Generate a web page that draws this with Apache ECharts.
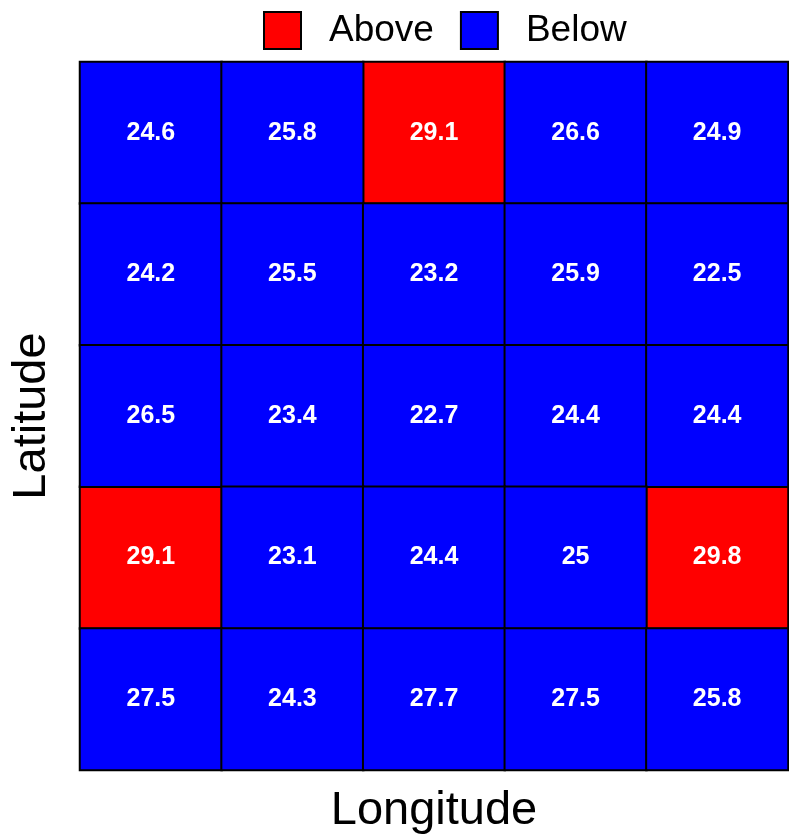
<!DOCTYPE html>
<html>
<head>
<meta charset="utf-8">
<script src="https://cdn.jsdelivr.net/npm/echarts@6/dist/echarts.min.js"></script>
<style>
  html, body { margin: 0; padding: 0; background: #fff; }
  #chart { width: 789px; height: 837px; }
</style>
</head>
<body>
<div id="chart"></div>
<script>
// columns (longitude) and rows (latitude, top to bottom)
const lonCats = ['1', '2', '3', '4', '5'];
const latCats = ['1', '2', '3', '4', '5'];
const values = [
  [24.6, 25.8, 29.1, 26.6, 24.9],
  [24.2, 25.5, 23.2, 25.9, 22.5],
  [26.5, 23.4, 22.7, 24.4, 24.4],
  [29.1, 23.1, 24.4, 25, 29.8],
  [27.5, 24.3, 27.7, 27.5, 25.8]
];
const threshold = 28;

const above = [];
const below = [];
values.forEach((row, r) => {
  row.forEach((v, c) => {
    if (v > threshold) above.push([c, r, v]);
    else below.push([c, r, v]);
  });
});

const myChart = echarts.init(document.getElementById('chart'));

const FONT = 'Liberation Sans, Arial, sans-serif';
const cellStyle = (color) => ({
  color: color,
  borderColor: '#000',
  borderWidth: 2
});
const cellLabel = {
  show: true,
  color: '#fff',
  fontSize: 25,
  fontWeight: 'bold',
  fontFamily: FONT,
  formatter: (p) => p.value[2]
};

const option = {
  backgroundColor: '#fff',
  animation: false,
  legend: {
    left: 258,
    top: 6,
    itemWidth: 37,
    itemHeight: 37,
    itemGap: 26,
    icon: 'rect',
    itemStyle: { borderColor: '#000', borderWidth: 2 },
    textStyle: {
      fontSize: 37,
      color: '#000',
      fontFamily: FONT,
      padding: [0, 0, 0, 23]
    },
    data: ['Above', 'Below']
  },
  grid: { left: 80, top: 62, right: 1, bottom: 67, containLabel: false, outerBoundsMode: 'none' },
  xAxis: {
    type: 'category',
    data: lonCats,
    name: 'Longitude',
    nameLocation: 'middle',
    nameGap: 18,
    nameTextStyle: { fontSize: 47, color: '#000', fontFamily: FONT, verticalAlign: 'top' },
    axisLine: { show: true, lineStyle: { color: '#000', width: 2 } },
    axisTick: { show: false },
    axisLabel: { show: false },
    splitLine: { show: false }
  },
  yAxis: {
    type: 'category',
    data: latCats,
    inverse: true,
    name: 'Latitude',
    nameLocation: 'middle',
    nameGap: 24,
    nameTextStyle: { fontSize: 47, color: '#000', fontFamily: FONT },
    axisLine: { show: true, lineStyle: { color: '#000', width: 2 } },
    axisTick: { show: false },
    axisLabel: { show: false },
    splitLine: { show: false }
  },
  series: [
    {
      name: 'Above',
      type: 'heatmap',
      data: above,
      itemStyle: cellStyle('#ff0000'),
      label: cellLabel,
      emphasis: { disabled: true }
    },
    {
      name: 'Below',
      type: 'heatmap',
      data: below,
      itemStyle: cellStyle('#0000ff'),
      label: cellLabel,
      emphasis: { disabled: true }
    }
  ]
};

myChart.setOption(option);
window.onresize = () => myChart.resize();
</script>
</body>
</html>
